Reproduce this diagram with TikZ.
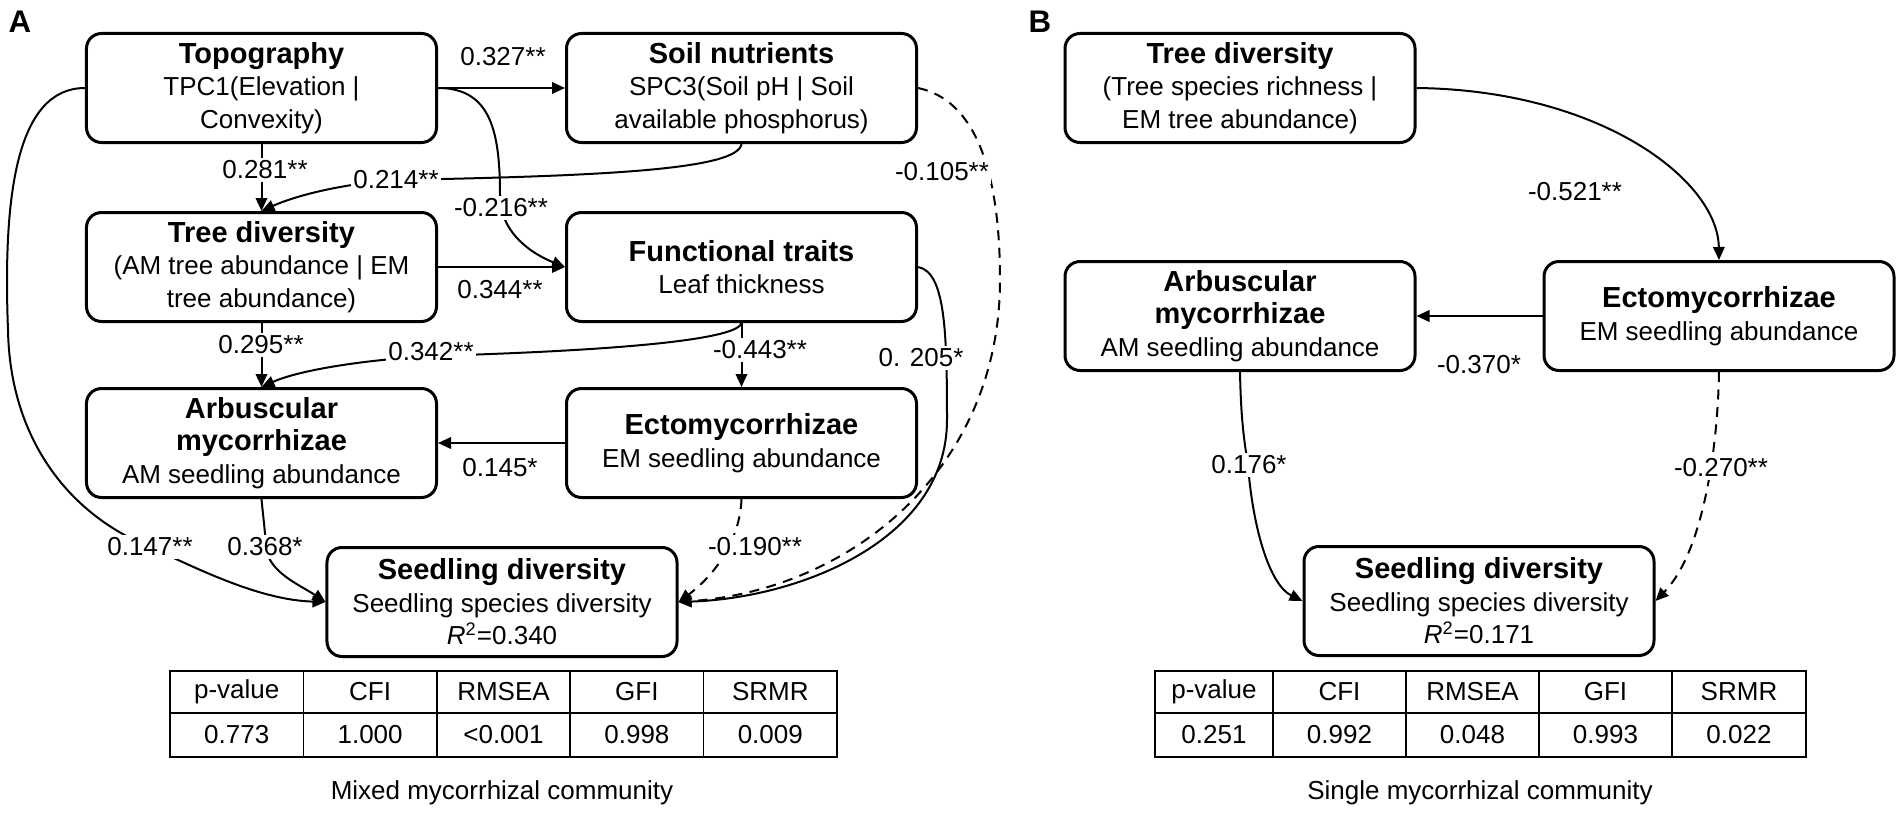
\documentclass[tikz,border=0pt]{standalone}
\usepackage{fontspec}
\setmainfont{Liberation Sans}
\usepackage{tikz}
\usetikzlibrary{arrows.meta, positioning, calc}

\newcommand{\ttl}[1]{{\fontsize{11.6}{13}\selectfont\bfseries #1}}

\tikzset{
  box/.style={draw, line width=1.2pt, rounded corners=6pt, minimum width=140pt, minimum height=43.6pt, align=center, inner sep=2pt, font=\fontsize{10.4}{13}\selectfont},
  conn/.style={line width=0.8pt},
  arr/.style={conn, -{Triangle[length=5.2pt,width=4.6pt]}},
  darr/.style={arr, dash pattern=on 4pt off 3pt},
  coef/.style={fill=white, inner sep=1pt, font=\fontsize{10.4}{12}\selectfont},
  cell/.style={font=\fontsize{10.4}{12}\selectfont},
  panel/.style={font=\fontsize{12.5}{14}\selectfont\bfseries},
  grid/.style={line width=0.6pt}
}

\begin{document}
\begin{tikzpicture}[x=0.4pt, y=-0.4pt]
\useasboundingbox (0,0) rectangle (1902,813);

% 图A 节点
\node[panel] (labA) at (20,22) {A};
\node[box] (topo) at (261.5,88) {\ttl{Topography}\\TPC1(Elevation |\\Convexity)};
\node[box] (soil) at (741.5,88) {\ttl{Soil nutrients}\\SPC3(Soil pH | Soil\\available phosphorus)};
\node[box] (treeA) at (261.5,267) {\ttl{Tree diversity}\\(AM tree abundance | EM\\tree abundance)};
\node[box] (func) at (741.5,267) {\ttl{Functional traits}\\Leaf thickness};
\node[box] (arbA) at (261.5,443) {\ttl{Arbuscular}\\\ttl{mycorrhizae}\\AM seedling abundance};
\node[box] (ectoA) at (741.5,443) {\ttl{Ectomycorrhizae}\\EM seedling abundance};
\node[box] (seedA) at (502,602) {\ttl{Seedling diversity}\\Seedling species diversity\\\textit{R}\textsuperscript{2}=0.340};

% 图A 路径
\draw[arr] (topo.east) -- (soil.west);
\draw[arr] (topo.south) -- (treeA.north);
\draw[arr] (soil.south) .. controls (738,170) and (600,176) .. (396,180) .. controls (340,184) and (295,196) .. (treeA.north);
\draw[arr] (topo.east) .. controls (490,88) and (500,130) .. (500,195) .. controls (500,235) and (535,255) .. (func.west);
\draw[arr] (treeA.east) -- (func.west);
\draw[arr] (treeA.south) -- (arbA.north);
\draw[arr] (func.south) .. controls (738,338) and (640,350) .. (431,356) .. controls (350,361) and (295,372) .. (arbA.north);
\draw[arr] (func.south) -- (ectoA.north);
\draw[arr] (ectoA.west) -- (arbA.east);
\draw[arr] (topo.west) .. controls (15,88) and (3,200) .. (8,330) .. controls (10,440) and (70,515) .. (150,547) .. controls (200,570) and (260,600) .. (seedA.west);
\draw[arr] (arbA.south) .. controls (263,515) and (265,530) .. (266,547) .. controls (268,572) and (300,585) .. (seedA.west);
\draw[darr] (ectoA.south) .. controls (740,540) and (715,575) .. (seedA.east);
\draw[arr] (func.east) .. controls (945,272) and (947,330) .. (947,420) .. controls (947,540) and (800,598) .. (seedA.east);
\draw[darr] (soil.east) .. controls (975,100) and (1000,170) .. (1000,280) .. controls (1000,470) and (850,590) .. (seedA.east);

% 图A 系数
\node[coef] (c327) at (503,57) {0.327**};
\node[coef] (c281) at (265,170) {0.281**};
\node[coef] (c214) at (396,180) {0.214**};
\node[coef] (c216) at (501,208) {-0.216**};
\node[coef] (c344) at (500,290) {0.344**};
\node[coef] (c295) at (261,345) {0.295**};
\node[coef] (c342) at (431,352) {0.342**};
\node[coef] (c443) at (760,350) {-0.443**};
\node[coef] (c145) at (500,468) {0.145*};
\node[coef] (c147) at (150,547) {0.147**};
\node[coef] (c368) at (265,547) {0.368*};
\node[coef] (c190) at (755,547) {-0.190**};
\node[coef] (c205) at (921,358) {0. 205*};
\node[coef] (c105) at (942,172) {-0.105**};

% 图A 拟合指标
\draw[grid] (170,671) rectangle (837,757);
\draw[grid] (170,713) -- (837,713);
\foreach \x in {303.4,436.8,570.2,703.6} \draw[grid] (\x,671) -- (\x,757);
\foreach \x/\h/\v [count=\i] in {236.7/p-value/0.773, 370.1/CFI/1.000, 503.5/RMSEA/<0.001, 636.9/GFI/0.998, 770.3/SRMR/0.009} {
  \node[cell] (hA\i) at (\x,692) {\h};
  \node[cell] (vA\i) at (\x,735) {\v};
}
\node[cell] (capA) at (502,793) {Mixed mycorrhizal community};

% 图B 节点
\node[panel] (labB) at (1040,22) {B};
\node[box] (treeB) at (1240,88) {\ttl{Tree diversity}\\(Tree species richness |\\EM tree abundance)};
\node[box] (arbB) at (1240,316) {\ttl{Arbuscular}\\\ttl{mycorrhizae}\\AM seedling abundance};
\node[box] (ectoB) at (1719,316) {\ttl{Ectomycorrhizae}\\EM seedling abundance};
\node[box] (seedB) at (1479,601) {\ttl{Seedling diversity}\\Seedling species diversity\\\textit{R}\textsuperscript{2}=0.171};

% 图B 路径
\draw[arr] (treeB.east) .. controls (1600,90) and (1718,180) .. (ectoB.north);
\draw[arr] (ectoB.west) -- (arbB.east);
\draw[arr] (arbB.south) .. controls (1241,420) and (1244,440) .. (1248,465) .. controls (1253,530) and (1270,585) .. (seedB.west);
\draw[darr] (ectoB.south) .. controls (1718,440) and (1705,550) .. (seedB.east);

% 图B 系数
\node[coef] (c521) at (1575,192) {-0.521**};
\node[coef] (c370) at (1479,365) {-0.370*};
\node[coef] (c176) at (1249,465) {0.176*};
\node[coef] (c270) at (1721,468) {-0.270**};

% 图B 拟合指标
\draw[grid] (1155,671) rectangle (1806,757);
\draw[grid] (1155,713) -- (1806,713);
\foreach \x in {1273,1406,1539,1672} \draw[grid] (\x,671) -- (\x,757);
\foreach \x/\h/\v [count=\i] in {1214/p-value/0.251, 1339.5/CFI/0.992, 1472.5/RMSEA/0.048, 1605.5/GFI/0.993, 1739/SRMR/0.022} {
  \node[cell] (hB\i) at (\x,692) {\h};
  \node[cell] (vB\i) at (\x,735) {\v};
}
\node[cell] (capB) at (1480,793) {Single mycorrhizal community};
\end{tikzpicture}
\end{document}
